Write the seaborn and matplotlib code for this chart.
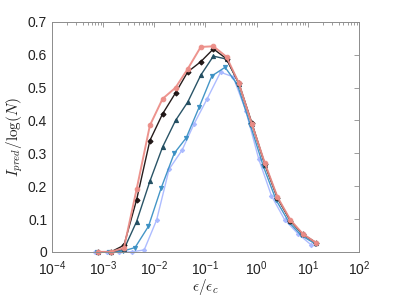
import matplotlib
matplotlib.use('Agg')
import matplotlib.pyplot as plt
import matplotlib.ticker as mticker
import pandas as pd
import seaborn as sns

# values
x_main = [8.0e-4, 1.42e-3, 2.55e-3, 4.5e-3, 8.2e-3, 1.45e-2, 2.6e-2, 4.5e-2, 8.1e-2,
          0.143, 0.258, 0.449, 0.805, 1.45, 2.56, 4.59, 7.98, 14.8]
x_mid = [7.5e-4, 1.33e-3, 2.4e-3, 4.2e-3, 7.7e-3, 1.36e-2, 2.45e-2, 4.2e-2, 7.6e-2,
         0.134, 0.242, 0.42, 0.76, 1.36, 2.4, 4.3, 7.5, 13.8]
x_light = [6.8e-4, 1.19e-3, 2.08e-3, 3.65e-3, 6.35e-3, 1.11e-2, 1.95e-2, 3.5e-2, 6.0e-2,
           0.108, 0.197, 0.348, 0.615, 1.10, 1.95, 3.56, 6.47, 11.5]

y_salmon = [0, 0, 0.012, 0.19, 0.385, 0.466, 0.50, 0.557, 0.624, 0.626, 0.594, 0.514,
            0.39, 0.27, 0.167, 0.097, 0.055, 0.027]
y_black = [0, 0, 0.02, 0.158, 0.339, 0.42, 0.484, 0.548, 0.579, 0.618, 0.588, 0.514,
           0.393, 0.268, 0.165, 0.095, 0.054, 0.027]
y_teal = [0, 0, 0.008, 0.092, 0.215, 0.319, 0.40, 0.456, 0.538, 0.596, 0.587, 0.512,
          0.39, 0.265, 0.163, 0.094, 0.053, 0.027]
y_mid = [0, 0, 0.002, 0.013, 0.078, 0.194, 0.30, 0.347, 0.442, 0.536, 0.562, 0.51,
         0.385, 0.26, 0.158, 0.09, 0.05, 0.025]
y_light = [0, 0, 0, 0, 0.006, 0.097, 0.252, 0.31, 0.39, 0.466, 0.547, 0.533,
           0.43, 0.283, 0.171, 0.097, 0.055, 0.022]

series = [
    # x, y, colour, marker, marker size, line width
    (x_light, y_light, '#a9b9ff', 'D', 2.2, 1.0),
    (x_mid, y_mid, '#3a90c4', 'v', 3.0, 1.0),
    (x_main, y_teal, '#1e4b5f', '^', 3.0, 1.0),
    (x_main, y_black, '#1a1010', 'D', 2.6, 1.0),
    (x_main, y_salmon, '#ec8e88', 'o', 3.3, 1.4),
]

sns.set_style('white')
plt.rcParams['font.family'] = ['Liberation Sans', 'DejaVu Sans']
plt.rcParams['mathtext.fontset'] = 'cm'

fig = plt.figure(figsize=(3.97, 2.97), dpi=100)
ax = fig.add_axes([0.131, 0.152, 0.773, 0.774])

for xs, ys, col, mk, ms, lw in series:
    d = pd.DataFrame({'x': xs, 'y': ys})
    sns.lineplot(data=d, x='x', y='y', ax=ax, color=col, marker=mk, markersize=ms,
                 markeredgecolor=col, linewidth=lw, clip_on=False, estimator=None,
                 sort=False, alpha=0.95)

ax.set_xscale('log')
ax.set_xlim(1e-4, 1e2)
ax.set_ylim(0, 0.7)
ax.set_yticks([0, 0.1, 0.2, 0.3, 0.4, 0.5, 0.6, 0.7])
ax.yaxis.set_major_formatter(mticker.FuncFormatter(lambda v, p: '0' if v == 0 else f'{v:.1f}'))
ax.xaxis.set_major_locator(mticker.LogLocator(base=10, numticks=10))
ax.xaxis.set_minor_locator(mticker.LogLocator(base=10, subs=range(2, 10), numticks=100))
ax.xaxis.set_minor_formatter(mticker.NullFormatter())

for s in ax.spines.values():
    s.set_color('#8c8c8c')
    s.set_linewidth(0.7)
ax.tick_params(which='both', direction='in', top=True, right=True, colors='#8c8c8c',
               labelcolor='#222222', labelsize=10, width=0.6)
ax.tick_params(which='major', length=3.5)
ax.tick_params(which='minor', length=2)
ax.tick_params(axis='x', which='major', pad=5.5)

ax.set_xlabel(r'$\epsilon/\epsilon_c$', fontsize=11, color='#222222', labelpad=-0.5)
ax.set_ylabel(r'$I_{pred}/\log(N)$', fontsize=11, color='#222222', labelpad=2)

fig.savefig('out.png', dpi=100)
